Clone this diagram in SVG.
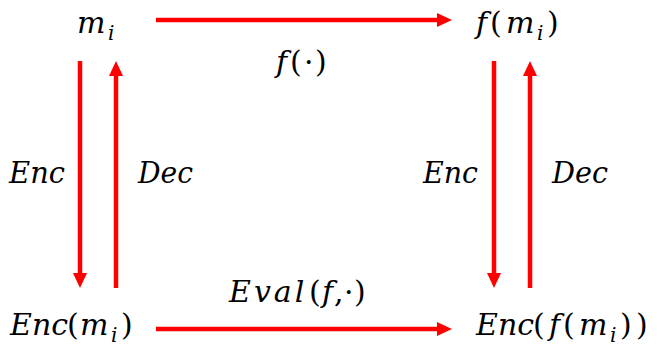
<svg xmlns="http://www.w3.org/2000/svg" width="657" height="350" viewBox="0 0 657 350">
<style>
text{font-family:"DejaVu Serif","Liberation Serif",serif;font-style:italic;font-size:30px;fill:#000}
.u{font-style:normal}
.s{font-size:20px}
.c line{stroke:#FF0000;stroke-width:4.5;fill:none;marker-end:url(#ah)}
</style>
<defs>
<marker id="ah" markerUnits="userSpaceOnUse" viewBox="0 0 15 14" refX="3" refY="7" markerWidth="15" markerHeight="14" orient="auto">
<path d="M0,0 L15,7 L0,14 z" fill="#FF0000"/>
</marker>
</defs>
<rect width="657" height="350" fill="#fff"/>
<g class="c" id="connectors">
<line x1="156" y1="20" x2="440" y2="20"/>
<line x1="156" y1="329" x2="440" y2="329"/>
<line x1="80" y1="61" x2="80" y2="276"/>
<line x1="116" y1="288" x2="116" y2="73"/>
<line x1="494" y1="61" x2="494" y2="276"/>
<line x1="530" y1="288" x2="530" y2="73"/>
</g>
<g id="node-mi"><text y="33"><tspan x="77">m</tspan><tspan class="s" x="108" dy="7">i</tspan></text></g>
<g id="node-fmi"><text y="33"><tspan x="476">f</tspan><tspan class="u" x="490">(</tspan><tspan x="506">m</tspan><tspan class="s" x="537" dy="7">i</tspan><tspan class="u" x="547" dy="-7">)</tspan></text></g>
<g id="node-encmi"><text y="335"><tspan x="10">Enc</tspan><tspan class="u" x="67">(</tspan><tspan x="80">m</tspan><tspan class="s" x="111" dy="7">i</tspan><tspan class="u" x="121" dy="-7">)</tspan></text></g>
<g id="node-encfmi"><text y="335"><tspan x="476">Enc</tspan><tspan class="u" x="533">(</tspan><tspan x="549">f</tspan><tspan class="u" x="563">(</tspan><tspan x="579">m</tspan><tspan class="s" x="610" dy="7">i</tspan><tspan class="u" x="620" dy="-7">)</tspan><tspan class="u" x="636">)</tspan></text></g>
<g id="labels">
<text y="72"><tspan x="276">f</tspan><tspan class="u" x="290">(</tspan><tspan class="u" x="304">·</tspan><tspan class="u" x="315">)</tspan></text>
<text y="302"><tspan x="229" letter-spacing="3">Eval</tspan><tspan class="u" x="309">(</tspan><tspan x="322">f</tspan><tspan class="u" x="334">,</tspan><tspan class="u" x="344">·</tspan><tspan class="u" x="354">)</tspan></text>
<text x="9" y="183" textLength="56" lengthAdjust="spacingAndGlyphs">Enc</text>
<text x="138" y="183" textLength="55" lengthAdjust="spacingAndGlyphs">Dec</text>
<text x="423" y="183" textLength="55" lengthAdjust="spacingAndGlyphs">Enc</text>
<text x="552" y="183" textLength="56" lengthAdjust="spacingAndGlyphs">Dec</text>
</g>
</svg>
